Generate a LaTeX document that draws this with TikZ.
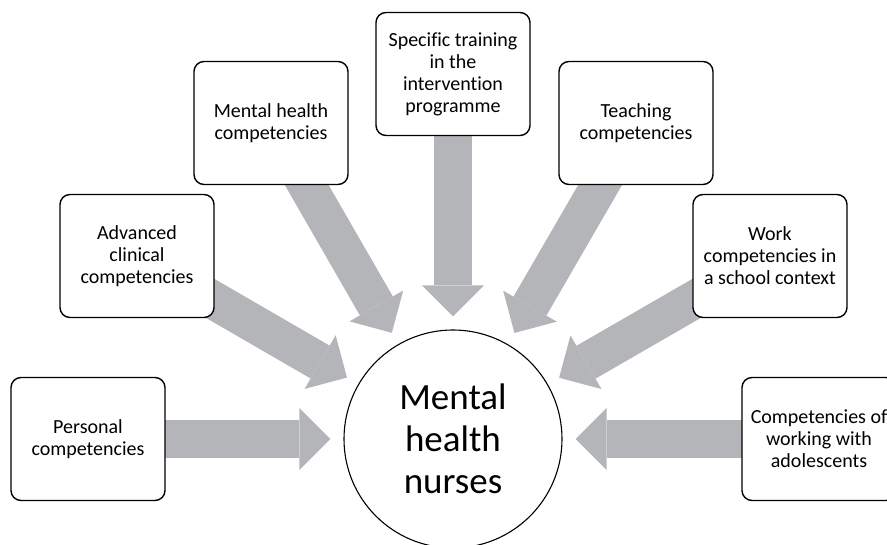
\documentclass[tikz,border=0pt]{standalone}
\usepackage{fontspec}
\setmainfont{Carlito}[Ligatures=NoCommon]
\usetikzlibrary{arrows.meta,backgrounds}
\definecolor{arrowgray}{RGB}{180,181,185}
\tikzset{
  compbox/.style={draw, line width=1.4pt, rounded corners=10pt, fill=white,
    minimum width=154pt, minimum height=123pt, align=center,
    font=\fontsize{20}{22}\selectfont},
  nursecircle/.style={draw, circle, line width=1.1pt, fill=white,
    minimum size=218pt, inner sep=0pt, align=center,
    font=\fontsize{37}{42}\selectfont},
  blockarrow/.style={draw=arrowgray, line width=38pt, shorten >=13pt,
    -{Triangle[width=62pt,length=31pt,line width=0pt]}}
}
\begin{document}
\begin{tikzpicture}[x=1pt,y=-1pt]
\useasboundingbox (0,0) rectangle (887,545);
\clip (0,0) rectangle (887,545);

%Shape: Circle
\node[nursecircle] (nurses) at (453,439) {Mental\\health\\nurses};

%Shape: Rounded Rect
\node[compbox] (pers) at (88,439) {Personal\\competencies};
\node[compbox] (adv) at (137,256) {Advanced\\clinical\\competencies};
\node[compbox] (mhc) at (271,123) {Mental health\\competencies};
\node[compbox] (spec) at (453,74) {Specific training\\in the\\intervention\\programme};
\node[compbox] (teach) at (636,123) {Teaching\\competencies};
\node[compbox] (work) at (770,256) {Work\\competencies in\\a school context};
\node[compbox] (adol) at (819,439) {Competencies of\\working with\\adolescents};

%Block Arrows
\begin{scope}[on background layer]
\foreach \src in {pers,adv,mhc,spec,teach,work,adol}
  \draw[blockarrow] (\src.center) -- (nurses);
\end{scope}

\end{tikzpicture}
\end{document}
